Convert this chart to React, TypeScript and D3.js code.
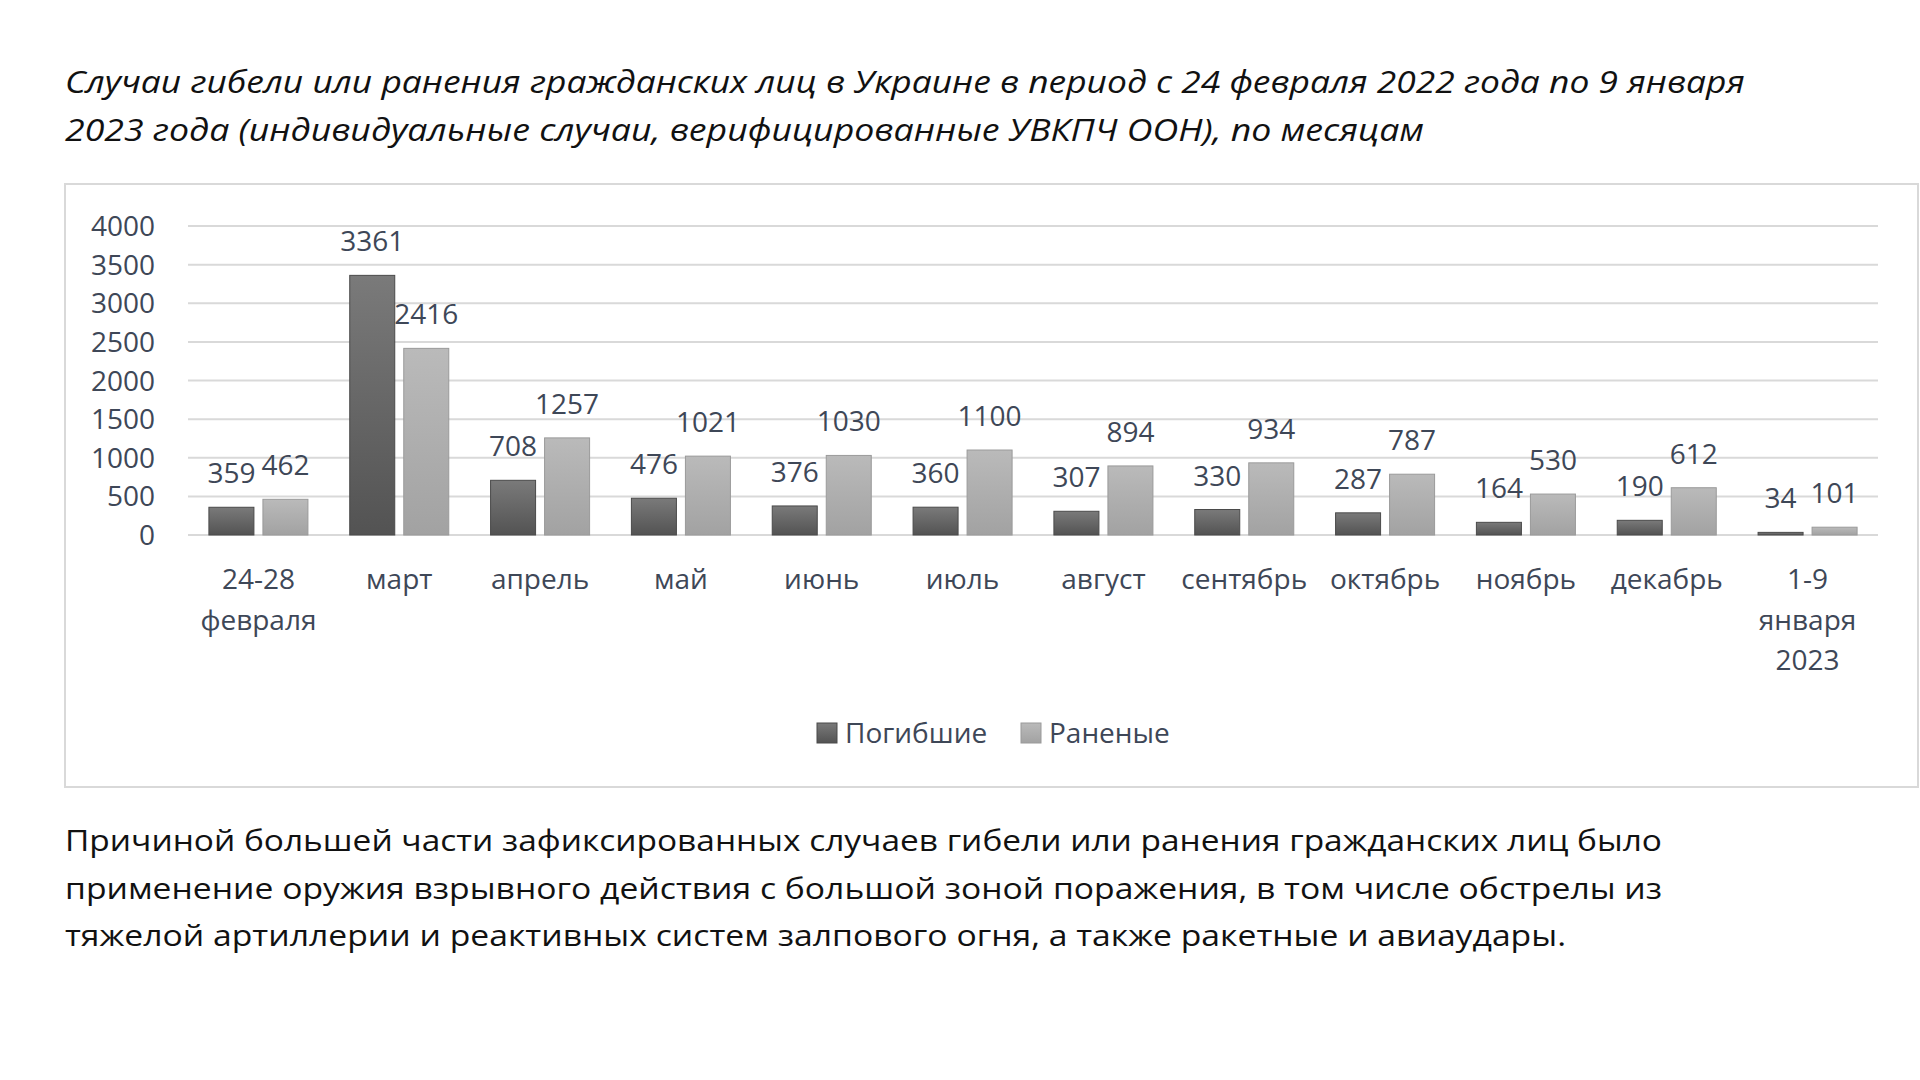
import React from "react";
import * as d3 from "d3";

const categories: string[][] = [
  ["24-28", "февраля"],
  ["март"],
  ["апрель"],
  ["май"],
  ["июнь"],
  ["июль"],
  ["август"],
  ["сентябрь"],
  ["октябрь"],
  ["ноябрь"],
  ["декабрь"],
  ["1-9", "января", "2023"],
];
const killed: number[] = [359, 3361, 708, 476, 376, 360, 307, 330, 287, 164, 190, 34];
const injured: number[] = [462, 2416, 1257, 1021, 1030, 1100, 894, 934, 787, 530, 612, 101];
const seriesKeys = ["killed", "injured"];
const seriesNames = ["Погибшие", "Раненые"];
const yTicks: number[] = [0, 500, 1000, 1500, 2000, 2500, 3000, 3500, 4000];

const titleLines = [
  "Случаи гибели или ранения гражданских лиц в Украине в период с 24 февраля 2022 года по 9 января",
  "2023 года (индивидуальные случаи, верифицированные УВКПЧ ООН), по месяцам",
];
const paragraphLines = [
  "Причиной большей части зафиксированных случаев гибели или ранения гражданских лиц было",
  "применение оружия взрывного действия с большой зоной поражения, в том числе обстрелы из",
  "тяжелой артиллерии и реактивных систем залпового огня, а также ракетные и авиаудары.",
];

const W = 1920;
const H = 1080;
const plotLeft = 188;
const plotRight = 1878;
const plotTop = 226;
const plotBottom = 535;
const axisColor = "#3e4757";
const gridColor = "#d9d9d9";
const chartFont = "'Open Sans', 'Noto Sans', sans-serif";

export default function App() {
  const keys = categories.map((c) => c.join(" "));
  const x = d3.scaleBand<string>().domain(keys).range([plotLeft, plotRight]).paddingInner(0).paddingOuter(0);
  const xs = d3
    .scaleBand<string>()
    .domain(seriesKeys)
    .range([0, x.bandwidth()])
    .paddingInner(0.1667)
    .paddingOuter(0.387);
  const y = d3.scaleLinear().domain([0, 4000]).range([plotBottom, plotTop]);
  const series = [killed, injured];
  const fills = ["url(#gDark)", "url(#gLight)"];
  const strokes = ["#4a4a4a", "#9a9a9a"];

  return (
    <svg
      width={W}
      height={H}
      viewBox={`0 0 ${W} ${H}`}
      style={{ position: "absolute", left: 0, top: 0, display: "block", background: "#fff" }}
    >
      <defs>
        <linearGradient id="gDark" x1="0" y1="0" x2="0" y2="1">
          <stop offset="0" stopColor="#7a7a7a" />
          <stop offset="1" stopColor="#535353" />
        </linearGradient>
        <linearGradient id="gLight" x1="0" y1="0" x2="0" y2="1">
          <stop offset="0" stopColor="#bababa" />
          <stop offset="1" stopColor="#a2a2a2" />
        </linearGradient>
      </defs>
      <rect x={0} y={0} width={W} height={H} fill="#fff" />

      {/* title */}
      {titleLines.map((t, i) => (
        <text
          key={"t" + i}
          x={65}
          y={93 + i * 48}
          fontFamily={chartFont}
          fontStyle="italic"
          fontSize={31}
          fill="#111"
          textLength={i === 0 ? 1680 : 1359}
          lengthAdjust="spacingAndGlyphs"
        >
          {t}
        </text>
      ))}

      {/* chart frame */}
      <rect x={65} y={184} width={1853} height={603} fill="#fff" stroke={gridColor} strokeWidth={2} />

      {/* grid */}
      {yTicks.map((t) => (
        <g key={"g" + t}>
          <line x1={plotLeft} x2={plotRight} y1={y(t)} y2={y(t)} stroke={gridColor} strokeWidth={2} />
          <text
            x={155}
            y={y(t)}
            dy="0.36em"
            textAnchor="end"
            fontFamily={chartFont}
            fontSize={28}
            fill={axisColor}
          >
            {t}
          </text>
        </g>
      ))}

      {/* bars */}
      {keys.map((k, ci) => (
        <g key={"c" + ci} transform={`translate(${x(k)},0)`}>
          {series.map((vals, si) => {
            const v = vals[ci];
            const bx = xs(seriesKeys[si])!;
            const bw = xs.bandwidth();
            return (
              <g key={"b" + si}>
                <rect
                  x={bx}
                  y={y(v)}
                  width={bw}
                  height={plotBottom - y(v)}
                  fill={fills[si]}
                  stroke={strokes[si]}
                  strokeWidth={1}
                />
                <text
                  x={bx + bw / 2}
                  y={y(v) - 24}
                  textAnchor="middle"
                  fontFamily={chartFont}
                  fontSize={28}
                  fill={axisColor}
                >
                  {v}
                </text>
              </g>
            );
          })}
          {categories[ci].map((line, li) => (
            <text
              key={"l" + li}
              x={x.bandwidth() / 2}
              y={589 + li * 40.5}
              textAnchor="middle"
              fontFamily={chartFont}
              fontSize={28}
              fill={axisColor}
            >
              {line}
            </text>
          ))}
        </g>
      ))}

      {/* legend */}
      {seriesNames.map((n, i) => {
        const lx = i === 0 ? 817 : 1021;
        return (
          <g key={"lg" + i}>
            <rect x={lx} y={723} width={20} height={20} fill={fills[i]} stroke={strokes[i]} strokeWidth={1} />
            <text x={lx + 28} y={743} fontFamily={chartFont} fontSize={28} fill={axisColor}>
              {n}
            </text>
          </g>
        );
      })}

      {/* paragraph */}
      {paragraphLines.map((t, i) => (
        <text
          key={"p" + i}
          x={65}
          y={851 + i * 47.5}
          fontFamily={chartFont}
          fontSize={29}
          fill="#111"
          textLength={i === 2 ? 1501 : 1597}
          lengthAdjust="spacingAndGlyphs"
        >
          {t}
        </text>
      ))}
    </svg>
  );
}
